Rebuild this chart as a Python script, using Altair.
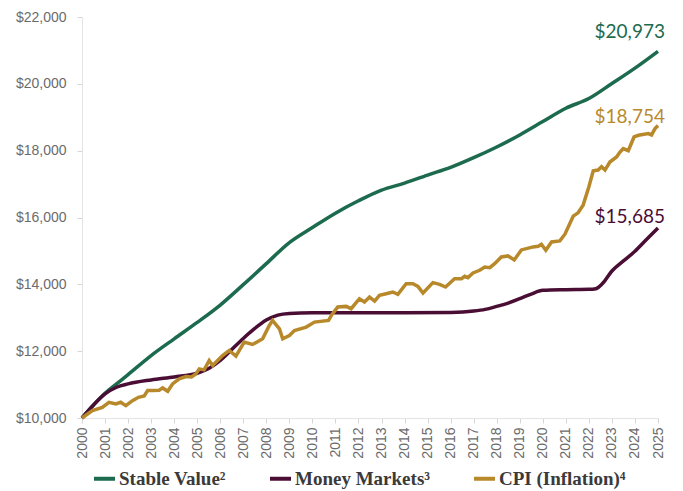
import altair as alt
import pandas as pd

series_names = ["Stable Value²", "Money Markets³", "CPI (Inflation)⁴"]
series_colors = ["#1d6b4f", "#4a0e35", "#b8892b"]

sv_years = [2000, 2000.5, 2001, 2001.5, 2002, 2003, 2004, 2005, 2006, 2007, 2008, 2009,
            2010, 2011, 2012, 2013, 2014, 2015, 2016, 2017, 2018, 2019, 2020, 2021,
            2022, 2023, 2024, 2025]
sv_values = [10000, 10390, 10740, 11020, 11300, 11870, 12370, 12860, 13380, 13990, 14620, 15250,
             15700, 16130, 16500, 16820, 17030, 17270, 17500, 17790, 18110, 18470, 18870, 19270,
             19560, 20010, 20470, 20973]

mm_years = [2000, 2000.5, 2001, 2001.5, 2002, 2003, 2004, 2005, 2005.5, 2006, 2006.5, 2007,
            2007.5, 2008, 2008.5, 2009, 2010, 2012, 2014, 2016, 2017, 2017.5, 2018, 2018.5,
            2019, 2019.5, 2020, 2021, 2022, 2022.3, 2022.6, 2023, 2023.5, 2024, 2024.5, 2025]
mm_values = [10000, 10390, 10720, 10920, 11020, 11140, 11230, 11340, 11480, 11720, 12050, 12380,
             12680, 12930, 13080, 13130, 13150, 13150, 13150, 13160, 13200, 13250, 13340, 13440,
             13570, 13710, 13820, 13840, 13850, 13870, 14030, 14400, 14700, 14990, 15340, 15685]

cpi_years = [2000.00, 2000.45, 2000.88, 2001.17, 2001.47, 2001.68, 2001.90, 2002.19, 2002.45,
             2002.70, 2002.85, 2003.10, 2003.35, 2003.50, 2003.72, 2003.93, 2004.22, 2004.51,
             2004.75, 2004.94, 2005.09, 2005.30, 2005.52, 2005.67, 2006.10, 2006.39, 2006.68,
             2007.04, 2007.40, 2007.84, 2008.13, 2008.27, 2008.57, 2008.71, 2009.00, 2009.22,
             2009.73, 2010.09, 2010.70, 2010.85, 2011.10, 2011.47, 2011.68, 2012.04, 2012.26,
             2012.48, 2012.70, 2012.91, 2013.20, 2013.49, 2013.71, 2014.07, 2014.36, 2014.58,
             2014.80, 2015.23, 2015.52, 2015.78, 2016.17, 2016.47, 2016.61, 2016.75, 2016.97,
             2017.26, 2017.48, 2017.70, 2017.91, 2018.20, 2018.49, 2018.76, 2019.07, 2019.58,
             2019.80, 2019.94, 2020.13, 2020.38, 2020.74, 2020.96, 2021.32, 2021.53, 2021.75,
             2022.00, 2022.19, 2022.40, 2022.55, 2022.70, 2022.91, 2023.20, 2023.35, 2023.49,
             2023.71, 2023.96, 2024.15, 2024.58, 2024.72, 2024.87, 2025.00]
cpi_values = [10000, 10220, 10320, 10470, 10420, 10470, 10370, 10520, 10620,
              10660, 10820, 10820, 10830, 10900, 10800, 11020, 11170, 11240,
              11230, 11320, 11470, 11440, 11720, 11570, 11870, 12020, 11850,
              12270, 12200, 12370, 12770, 12920, 12670, 12370, 12470, 12620,
              12720, 12870, 12920, 13100, 13320, 13340, 13270, 13570, 13470,
              13620, 13500, 13670, 13720, 13770, 13700, 14020, 14020, 13940,
              13740, 14050, 14000, 13920, 14170, 14170, 14240, 14200, 14340,
              14420, 14520, 14500, 14620, 14820, 14850, 14730, 15030, 15120,
              15140, 15200, 15020, 15270, 15300, 15500, 16040, 16140, 16370,
              16920, 17400, 17420, 17520, 17420, 17660, 17810, 17960, 18060,
              18000, 18410, 18460, 18510, 18470, 18660, 18754]

end_labels = ["$20,973", "$18,754", "$15,685"]
end_values = [20973, 18754, 15685]
end_colors = [series_colors[0], series_colors[2], series_colors[1]]
label_dy = [-13, -2, -5]

year_ticks = list(range(2000, 2026))
value_ticks = list(range(10000, 22001, 2000))

frames = []
for name, xs, vs in [(series_names[0], sv_years, sv_values),
                     (series_names[1], mm_years, mm_values),
                     (series_names[2], cpi_years, cpi_values)]:
    frames.append(pd.DataFrame({"t": xs, "value": vs, "series": name}))
df = pd.concat(frames, ignore_index=True)

color_scale = alt.Scale(domain=series_names, range=series_colors)
x_enc = alt.X("t:Q", scale=alt.Scale(domain=[2000, 2025], nice=False, zero=False),
              axis=alt.Axis(values=year_ticks, format="d", labelAngle=270, title=None,
                            labelPadding=4, labelOverlap=False, labelFlush=False))
y_enc = alt.Y("value:Q", scale=alt.Scale(domain=[10000, 22000], nice=False, zero=False),
              axis=alt.Axis(values=value_ticks, format="$,.0f", title=None, labelPadding=11,
                            labelFlush=False, labelOverlap=False))
legend = alt.Legend(title=None, orient="none", direction="horizontal", legendX=10, legendY=449,
                    symbolType="stroke", symbolSize=440, symbolStrokeWidth=4,
                    labelFont="Liberation Serif", labelFontSize=19, labelFontWeight="bold",
                    labelColor="#3a3a3a", columnPadding=36, labelOffset=2, labelLimit=300)

base = alt.Chart(df)
layers = []
for i, name in enumerate(series_names):
    interp = "linear" if i == 2 else "monotone"
    layers.append(
        base.transform_filter(alt.datum.series == name)
        .mark_line(strokeWidth=3.5, interpolate=interp)
        .encode(x=x_enc, y=y_enc,
                color=alt.Color("series:N", scale=color_scale, legend=legend, sort=series_names))
    )

for i in range(3):
    ldf = pd.DataFrame({"t": [2025], "value": [end_values[i]], "label": [end_labels[i]]})
    layers.append(
        alt.Chart(ldf).mark_text(align="right", baseline="alphabetic", dx=7, dy=label_dy[i],
                                 font="Lato", fontSize=19, color=end_colors[i])
        .encode(x=x_enc, y=y_enc, text="label:N")
    )

chart = alt.layer(*layers).properties(
    width=576, height=401,
    autosize=alt.AutoSizeParams(type="none"),
    padding={"left": 74, "top": 9, "right": 15, "bottom": 73},
).configure_view(stroke=None).configure_axis(
    grid=False, domainColor="#e3e3e3", tickColor="#d6d6d6", tickSize=5,
    labelColor="#6b6b6b", labelFont="Liberation Sans", labelFontSize=14,
    labelOverlap=False,
)

chart.save("out.html", embed_options={"renderer": "svg", "actions": False})
